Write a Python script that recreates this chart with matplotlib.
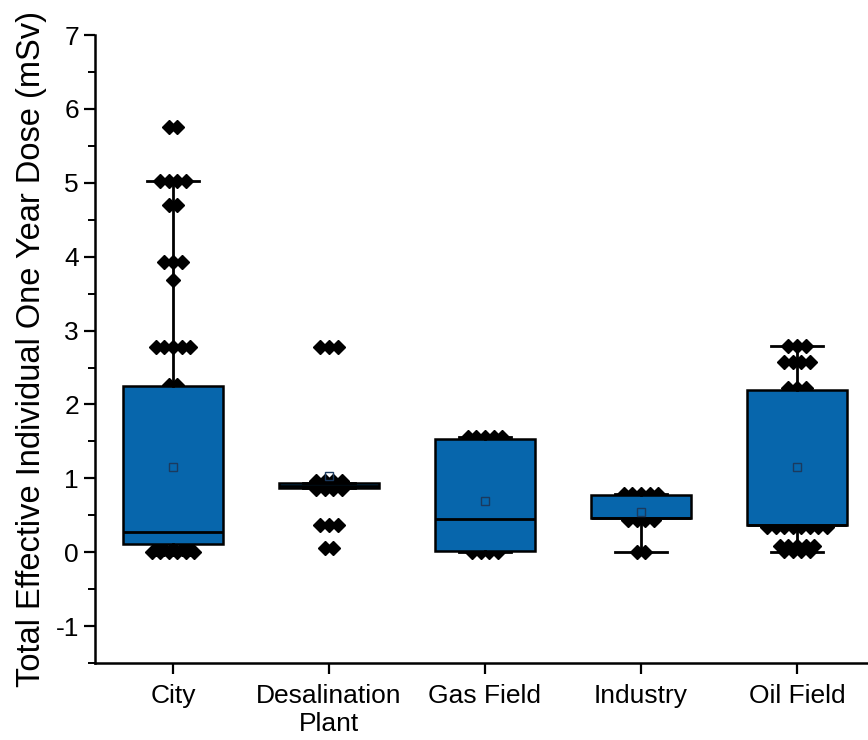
import numpy as np
import matplotlib.pyplot as plt
from matplotlib.ticker import MultipleLocator

plt.rcParams['font.family'] = ['Liberation Sans', 'DejaVu Sans']
plt.rcParams['axes.unicode_minus'] = False

categories = ['City', 'Desalination\nPlant', 'Gas Field', 'Industry', 'Oil Field']

# box statistics (mSv)
q1 = [0.11, 0.87, 0.02, 0.46, 0.37]
medians = [0.28, 0.90, 0.45, 0.46, 0.37]
q3 = [2.25, 0.94, 1.53, 0.77, 2.19]
whisker_low = [0.0, 0.87, 0.0, 0.0, 0.0]
whisker_high = [5.02, 0.94, 1.56, 0.79, 2.79]
means = [1.16, 1.03, 0.70, 0.54, 1.15]

# individual doses (visible points)
city_pts = [5.75, 5.75, 5.02, 5.02, 5.02, 5.02, 4.70, 4.70,
            3.93, 3.93, 3.93, 3.68, 2.78, 2.78, 2.78, 2.78, 2.78,
            2.27, 2.27, 0.04, 0.04, 0.04, 0.04, 0.04,
            0.0, 0.0, 0.0, 0.0, 0.0, 0.0]
desal_pts = [2.78, 2.78, 2.78, 0.96, 0.96, 0.96, 0.96,
             0.86, 0.86, 0.86, 0.86, 0.37, 0.37, 0.37, 0.06, 0.06]
gas_pts = [1.56, 1.56, 1.56, 1.56, 1.56, 0.0, 0.0, 0.0, 0.0]
industry_pts = [0.79, 0.79, 0.79, 0.79, 0.79, 0.44, 0.44, 0.44, 0.44,
                0.0, 0.0]
oil_pts = [2.79, 2.79, 2.79, 2.57, 2.57, 2.57, 2.57, 2.22, 2.22, 2.22,
           0.34, 0.34, 0.34, 0.34, 0.34, 0.34, 0.34, 0.34,
           0.08, 0.08, 0.08, 0.08, 0.08, 0.02, 0.02, 0.02, 0.02]
points = [city_pts, desal_pts, gas_pts, industry_pts, oil_pts]


def spread(values, step=0.055):
    # put equal values side by side, centred on the category
    vals = np.array(values)
    offs = np.zeros(len(vals))
    for v in np.unique(vals):
        idx = np.where(vals == v)[0]
        offs[idx] = (np.arange(len(idx)) - (len(idx) - 1) / 2) * step
    return offs


fig = plt.figure(figsize=(8.68, 7.4), dpi=100)
ax = fig.add_axes([0.1094, 0.104, 0.8906, 0.8486])

positions = np.arange(1, len(categories) + 1)

for pos, pts in zip(positions, points):
    ax.plot(pos + spread(pts), pts, linestyle='none', marker='D',
            color='black', markersize=7, zorder=1)

stats = []
for i in range(len(categories)):
    stats.append(dict(q1=q1[i], med=medians[i], q3=q3[i],
                      whislo=whisker_low[i], whishi=whisker_high[i],
                      mean=means[i], fliers=[]))

ax.bxp(stats, positions=positions, widths=0.64, capwidths=0.33,
       patch_artist=True, showmeans=True, showfliers=False,
       boxprops=dict(facecolor='#0766ac', edgecolor='black', linewidth=1.8),
       medianprops=dict(color='black', linewidth=2),
       whiskerprops=dict(color='black', linewidth=2),
       capprops=dict(color='black', linewidth=2),
       meanprops=dict(marker='s', markerfacecolor='none',
                      markeredgecolor='#1b3a5e', markersize=6,
                      markeredgewidth=1),
       zorder=2)

ax.set_xlim(0.5, 5.455)
ax.set_ylim(-1.5, 7)
ax.set_xticks(positions)
ax.set_xticklabels(categories, fontsize=19)
ax.yaxis.set_major_locator(MultipleLocator(1))
ax.yaxis.set_minor_locator(MultipleLocator(0.5))
ax.tick_params(axis='y', labelsize=19)
ax.tick_params(which='major', direction='out', length=8, width=1.6)
ax.tick_params(which='minor', direction='out', length=5, width=1.4)
ax.tick_params(axis='x', which='minor', bottom=False)
ax.tick_params(axis='x', pad=7)

for side in ['top', 'right']:
    ax.spines[side].set_visible(False)
for side in ['left', 'bottom']:
    ax.spines[side].set_linewidth(1.8)

ax.set_ylabel('Total Effective Individual One Year Dose (mSv)', fontsize=23.5,
              labelpad=6)

fig.savefig('out.png', dpi=100)
